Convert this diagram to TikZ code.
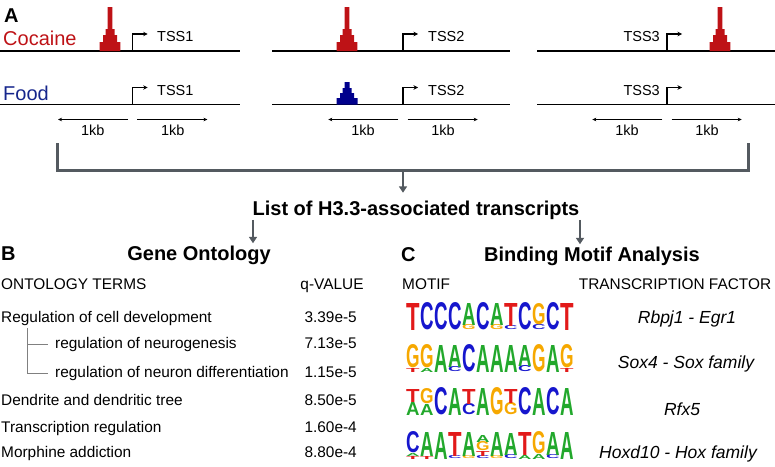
\documentclass[tikz,border=0pt]{standalone}
\usepackage{fontspec}
\usepackage{graphicx}
\setmainfont{Liberation Sans}
\usetikzlibrary{arrows.meta}
\definecolor{coc}{RGB}{190,18,22}
\definecolor{food}{RGB}{22,38,140}
\definecolor{peakblue}{RGB}{0,0,140}
\definecolor{brkgray}{RGB}{84,90,96}
\definecolor{nA}{RGB}{34,168,44}
\definecolor{nC}{RGB}{22,22,205}
\definecolor{nG}{RGB}{246,168,0}
\definecolor{nT}{RGB}{226,26,26}
\begin{document}
\begin{tikzpicture}[x=1pt,y=-1pt,
  txt/.style={inner sep=0pt, font=\fontsize{15.4}{18}\selectfont},
  head/.style={inner sep=0pt, font=\fontsize{20}{24}\selectfont\bfseries},
  cond/.style={inner sep=0pt, anchor=base west, font=\fontsize{20}{24}\selectfont},
  tsslbl/.style={inner sep=0pt, font=\fontsize{14.5}{17}\selectfont},
  tf/.style={inner sep=0pt, font=\fontsize{17.5}{21}\selectfont\itshape},
  gline/.style={line width=1.6pt},
  tss/.style={line width=1.1pt, -{Stealth[length=4.5pt,width=4.5pt]}},
  kb/.style={line width=0.5pt, -{Stealth[length=4pt,width=3.5pt]}},
  brk/.style={line width=3pt, brkgray},
  down/.style={line width=2.6pt, brkgray, -{Triangle[length=6.5pt,width=8pt]}},
  tree/.style={line width=0.6pt, gray},
  nt/.style={inner sep=0pt, outer sep=0pt, anchor=south west},
]
\useasboundingbox (0,0) rectangle (775,466);

\node[head, anchor=base west] (pa) at (4,22) {A};
\node[cond, text=coc] (coc) at (3,45) {Cocaine};
\node[cond, text=food] (food) at (3,100) {Food};
\foreach \y in {51,104.5} {
  \draw[gline] (0,\y) -- (240,\y);
  \draw[gline] (272,\y) -- (510,\y);
  \draw[gline] (537,\y) -- (775,\y);
  \foreach \x in {132.7,403,667}
    \draw[tss] (\x,\y) -- ++(0,-17) -- ++(15,0);
}
\foreach \x in {110,347,720}
  \fill[coc] (\x-10.3,51) |- (\x-7,42) |- (\x-4.5,35) |- (\x-2.3,29) |- (\x+2.3,7)
    |- (\x+4.5,29) |- (\x+7,35) |- (\x+10.3,42) -- (\x+10.3,51) -- cycle;
\fill[peakblue] (336.5,104.5) |- (340,98) |- (342.5,93) |- (344.5,88) |- (349.5,82)
  |- (351.5,88) |- (354,93) |- (357.5,98) -- (357.5,104.5) -- cycle;
\node[tsslbl, anchor=base west] (t1a) at (157,41) {TSS1};
\node[tsslbl, anchor=base west] (t1b) at (157,95) {TSS1};
\node[tsslbl, anchor=base west] (t2a) at (428,41) {TSS2};
\node[tsslbl, anchor=base west] (t2b) at (428,95) {TSS2};
\node[tsslbl, anchor=base east] (t3a) at (660,41) {TSS3};
\node[tsslbl, anchor=base east] (t3b) at (660,95) {TSS3};
\foreach \x [count=\k] in {132.7,403,667} {
  \draw[kb] (\x-4.7,119.5) -- ++(-70,0);
  \draw[kb] (\x+4.7,119.5) -- ++(70,0);
  \node[tsslbl, anchor=base] (kbl\k) at (\x-40,135) {1kb};
  \node[tsslbl, anchor=base] (kbr\k) at (\x+40,135) {1kb};
}

\coordinate (bl) at (57,143);
\coordinate (br) at (748,143);
\coordinate (bm) at (403,170);
\draw[brk] (bl) -- ++(0,27) -| (br);
\node[head, anchor=base] (list) at (416,215.5) {List of H3.3-associated transcripts};
\draw[down, shorten >=8pt] (bm) -- (bm |- list.north);

\node[head, anchor=base west] (pb) at (1,260) {B};
\node[head, anchor=base] (go) at (199,260) {Gene Ontology};
\coordinate (goin) at (253,0);
\coordinate (bmin) at (580,0);
\draw[down, shorten >=2pt] (list.south -| goin) -- (go.north -| goin);
\node[txt, anchor=base west] (ot) at (1,289) {ONTOLOGY TERMS};
\node[txt, anchor=base] (qv) at (332,289) {q-VALUE};
\foreach \t/\v/\y/\x [count=\k] in {Regulation of cell development/3.39e-5/322/1,
    regulation of neurogenesis/7.13e-5/348/55,
    regulation of neuron differentiation/1.15e-5/377/55,
    Dendrite and dendritic tree/8.50e-5/405/1,
    Transcription regulation/1.60e-4/432/1,
    Morphine addiction/8.80e-4/457/1} {
  \node[txt, anchor=base west] (term\k) at (\x,\y) {\t};
  \node[txt, anchor=base east] (q\k) at (357,\y) {\v};
}
\coordinate (tr) at (27,328);
\draw[tree, shorten >=7pt] (tr) |- (term2.west);
\draw[tree, shorten >=7pt] (tr) |- (term3.west);

\node[head, anchor=base west] (pc) at (401,261) {C};
\node[head, anchor=base] (bma) at (592,261) {Binding Motif Analysis};
\draw[down, shorten >=2pt] (list.south -| bmin) -- (bma.north -| bmin);
\node[txt, anchor=base west] (mt) at (402,289) {MOTIF};
\node[txt, anchor=base] (tfh) at (675,289) {TRANSCRIPTION FACTOR};
\foreach \n/\x/\y [count=\k] in {Rbpj1 - Egr1/687/323, Sox4 - Sox family/686/368,
    Rfx5/682/415, Hoxd10 - Hox family/678/458}
  \node[tf, anchor=base] (tf\k) at (\x,\y) {\n};

\foreach \i/\o/\h/\l in {1/0/27/T, 2/0/27/C, 3/0/27/C, 4/0/27/C, 5/0/5/G, 5/5/22/A,
    6/0/27/C, 7/0/5/G, 7/5/22/A, 8/0/4/C, 8/4/23/T, 9/0/27/C, 10/0/5/C, 10/5/21/G,
    11/0/27/C, 12/0/27/T}
  \node[nt, text=n\l] (ma\i-\o) at ({406+14*(\i-1)},{330-\o}) {\resizebox{13.5pt}{\h pt}{\bfseries\l}};
\foreach \i/\o/\h/\l in {1/0/4/T, 1/4/23/G, 2/0/4/A, 2/4/23/G, 3/0/27/A, 4/0/5/C, 4/5/22/A,
    5/0/27/C, 6/0/27/A, 7/0/27/A, 8/0/27/A, 9/0/6/C, 9/6/21/A, 10/0/27/G, 11/0/27/A,
    12/0/4/T, 12/4/23/G}
  \node[nt, text=n\l] (mb\i-\o) at ({406+14*(\i-1)},{372-\o}) {\resizebox{13.5pt}{\h pt}{\bfseries\l}};
\foreach \i/\o/\h/\l in {1/0/13/A, 1/13/13/T, 2/0/11/A, 2/11/15/G, 3/0/27/C, 4/0/27/A,
    5/0/11/C, 5/11/15/T, 6/0/27/A, 7/0/27/G, 8/0/12/G, 8/12/14/T, 9/0/27/C, 10/0/27/A,
    11/0/27/C, 12/0/27/A}
  \node[nt, text=n\l] (mc\i-\o) at ({406+14*(\i-1)},{415-\o}) {\resizebox{13.5pt}{\h pt}{\bfseries\l}};
\foreach \i/\o/\h/\l in {1/0/3/T, 1/3/3/A, 1/6/21/C, 2/0/3/T, 2/3/24/A, 3/0/27/A, 4/0/3/C,
    4/3/24/T, 5/0/3/G, 5/3/24/A, 6/0/3/C, 6/3/5/T, 6/8/9/G, 6/17/7/A, 7/0/3/G, 7/3/24/A,
    8/0/4/C, 8/4/22/A, 9/0/4/A, 9/4/23/T, 10/0/5/A, 10/5/22/G, 11/0/4/C, 11/4/23/A, 12/0/27/A}
  \node[nt, text=n\l] (md\i-\o) at ({406+14*(\i-1)},{459-\o}) {\resizebox{13.5pt}{\h pt}{\bfseries\l}};
\end{tikzpicture}
\end{document}
